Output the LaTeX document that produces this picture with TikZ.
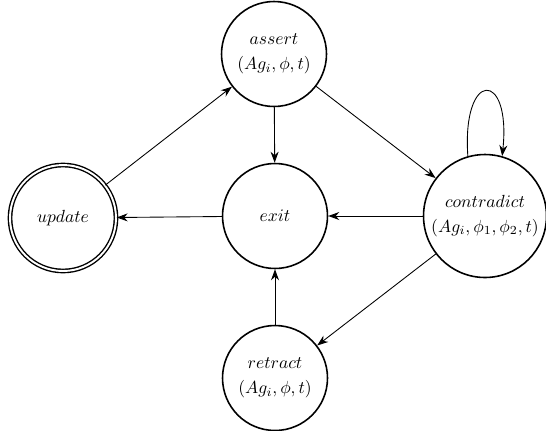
\documentclass[tikz,border=0pt]{standalone}
\usepackage{amsmath,amssymb}
\usetikzlibrary{arrows.meta,automata}

\begin{document}
\begin{tikzpicture}[x=0.02cm,y=-0.02cm]
\tikzset{
  statenode/.style={circle,draw=black,line width=0.9pt,minimum size=2.1cm,inner sep=1pt,align=center},
  finalnode/.style={statenode,double,double distance=1.1pt,line width=0.8pt,minimum size=2.12cm},
  transedge/.style={draw=black,line width=0.5pt,line cap=round,-{Stealth[length=2.2mm,width=1.6mm]}}
}
\useasboundingbox (0,0) rectangle (546,430);
\node[statenode] (n_assert) at (274,54) {$assert$\\[2pt]$(Ag_i,\phi,t)$};
\node[statenode] (n_exit) at (275,216) {$exit$};
\node[finalnode] (n_update) at (63,218) {$update$};
\node[statenode,minimum size=2.46cm] (n_contradict) at (485,216) {$contradict$\\[2pt]$(Ag_i,\phi_1,\phi_2,t)$};
\node[statenode] (n_retract) at (275,378) {$retract$\\[2pt]$(Ag_i,\phi,t)$};
\draw[transedge] (n_update) -- (n_assert);
\draw[transedge] (n_assert) -- (n_exit);
\draw[transedge] (n_assert) -- (n_contradict);
\draw[transedge] (n_contradict) -- (n_exit);
\draw[transedge] (n_exit) -- (n_update);
\draw[transedge] (n_contradict) -- (n_retract);
\draw[transedge] (n_retract) -- (n_exit);
\draw[transedge] (n_contradict.106) to[out=94,in=84,looseness=6.5] (n_contradict.74);
\end{tikzpicture}
\end{document}
